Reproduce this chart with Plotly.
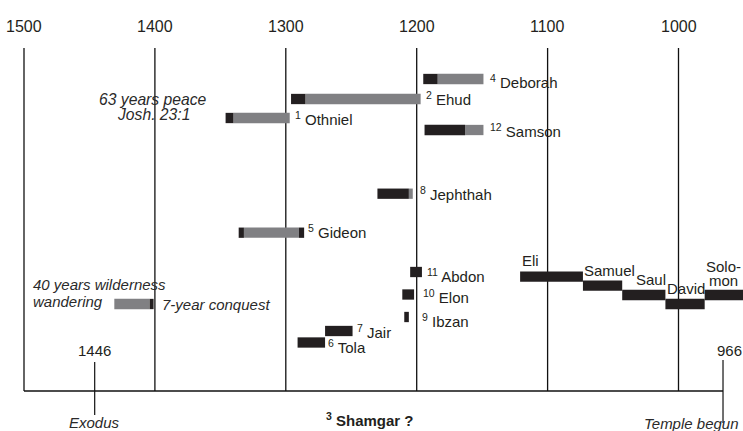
import plotly.graph_objects as go

# ---------------- data ----------------
top_years = [1500, 1400, 1300, 1200, 1100, 1000]

judge_names = ["Othniel", "Ehud", "Deborah", "Gideon", "Tola", "Jair",
               "Jephthah", "Ibzan", "Elon", "Abdon", "Samson"]
judge_numbers = [1, 2, 4, 5, 6, 7, 8, 9, 10, 11, 12]

# segments of each judge: dark = oppression / rule, gray = rest
seg_judge = ["Othniel", "Othniel", "Ehud", "Ehud", "Deborah", "Deborah",
             "Gideon", "Gideon", "Gideon", "Tola", "Jair", "Jephthah",
             "Jephthah", "Ibzan", "Elon", "Abdon", "Samson", "Samson"]
seg_from = [1346, 1340, 1296, 1285, 1195, 1184, 1336, 1332, 1290, 1291,
            1270, 1230, 1206, 1209.5, 1211, 1205, 1194, 1163]
seg_to = [1340, 1297, 1285, 1197, 1184, 1149, 1332, 1290, 1286, 1270,
          1249, 1206, 1203, 1206, 1202, 1196, 1163, 1149]
seg_kind = ["dark", "gray", "dark", "gray", "dark", "gray", "dark", "gray",
            "dark", "dark", "dark", "dark", "gray", "dark", "dark", "dark",
            "dark", "gray"]

leader_names = ["Eli", "Samuel", "Saul", "David", "Solomon"]
leader_from = [1121, 1073, 1043, 1010, 980]
leader_to = [1073, 1043, 1010, 980, 931]

wild_from = [1431, 1404]
wild_to = [1404, 1401]
wild_kind = ["gray", "dark"]

exodus_year = 1446
temple_year = 966

# ---------------- layout (positions / styles) ----------------
W, H = 743, 431
PX_PER_YR = 1.309
X_LEFT = 1500 + 24 / PX_PER_YR
X_RIGHT = 1500 - (W - 24) / PX_PER_YR

def px2yr(px):
    return 1500 - (px - 24) / PX_PER_YR

row_y = {"Deborah": 79, "Ehud": 99, "Othniel": 118, "Samson": 130,
         "Jephthah": 193.7, "Gideon": 232.7, "Abdon": 272, "Elon": 294.5,
         "Ibzan": 317, "Jair": 331, "Tola": 342.5}
label_y = {"Deborah": 81, "Ehud": 98.3, "Othniel": 118, "Samson": 130,
           "Jephthah": 193.3, "Gideon": 231, "Abdon": 275, "Elon": 296.7,
           "Ibzan": 320, "Jair": 331.7, "Tola": 346.7}
label_gap = {"Deborah": 5, "Ehud": 3.5, "Othniel": 3.5, "Samson": 4.5,
             "Jephthah": 5, "Gideon": 2, "Abdon": 3, "Elon": 6.5,
             "Ibzan": 11, "Jair": 2.5, "Tola": 1}
leader_y = [276.7, 285.7, 295, 304, 295]
wild_y = 304
BAR_H = 10.3

DARK = "#231f20"
GRAY = "#808083"
TXT = "#231f20"
FONT = "Liberation Sans, Arial, sans-serif"
FS = 15

fig = go.Figure()

def add_bars(ys, starts, ends, color):
    fig.add_trace(go.Bar(
        orientation="h", y=ys, base=ends,
        x=[s - e for s, e in zip(starts, ends)],
        width=[BAR_H] * len(ys),
        marker=dict(color=color, line=dict(width=0)),
        hoverinfo="skip", showlegend=False))

for kind, col in (("gray", GRAY), ("dark", DARK)):
    idx = [i for i, k in enumerate(seg_kind) if k == kind]
    add_bars([row_y[seg_judge[i]] for i in idx],
             [seg_from[i] for i in idx], [seg_to[i] for i in idx], col)
    widx = [i for i, k in enumerate(wild_kind) if k == kind]
    if widx:
        add_bars([wild_y for _ in widx], [wild_from[i] for i in widx],
                 [wild_to[i] for i in widx], col)

add_bars(leader_y, leader_from, leader_to, DARK)

# vertical century lines
for yr in top_years:
    fig.add_shape(type="line", x0=yr, x1=yr, y0=48, y1=391,
                  line=dict(color="#111", width=1.3), layer="below")
# base axis line
fig.add_shape(type="line", x0=1500, x1=temple_year, y0=391, y1=391,
              line=dict(color="#111", width=1.6), layer="below")
# event ticks
fig.add_shape(type="line", x0=exodus_year, x1=exodus_year, y0=362, y1=415,
              line=dict(color="#111", width=1.2), layer="below")
fig.add_shape(type="line", x0=temple_year, x1=temple_year, y0=360, y1=423,
              line=dict(color="#111", width=1.2), layer="below")

def ann(text, x, y, xanchor="center", size=FS, xshift=0, color=TXT, xref="x"):
    fig.add_annotation(text=text, x=x, y=y, xref=xref, yref="y",
                       xanchor=xanchor, yanchor="middle", showarrow=False,
                       xshift=xshift, font=dict(family=FONT, size=size, color=color))

for yr in top_years:
    ann(str(yr), yr, 26, size=16)

# judge labels
for name, num in zip(judge_names, judge_numbers):
    end = min(seg_to[i] for i, j in enumerate(seg_judge) if j == name)
    ann(f"<sup>{num}</sup> {name}", end, label_y[name], xanchor="left",
        xshift=label_gap[name])

# leader labels
ann("Eli", px2yr(520), 260, xanchor="left")
ann("Samuel", px2yr(582), 270, xanchor="left")
ann("Saul", px2yr(634), 279, xanchor="left")
ann("David", px2yr(665), 288, xanchor="left")
ann("Solo-", px2yr(723), 266.5)
ann("mon", px2yr(723), 280)

# italic notes
ITC = "#2a2a2a"
ann("<i>63 years peace</i>", px2yr(153), 99, color=ITC, size=15.7)
ann("<i>Josh. 23:1</i>", px2yr(153), 114.3, color=ITC, size=15.7)
ann("<i>40 years wilderness</i>", px2yr(31), 284.5, xanchor="left", color=ITC)
ann("<i>wandering</i>", px2yr(31), 301.7, xanchor="left", color=ITC)
ann("<i>7-year conquest</i>", wild_to[-1], 304, xanchor="left", xshift=6, color=ITC)

# bottom events
ann(str(exodus_year), exodus_year, 350)
ann("<i>Exodus</i>", exodus_year, 422, color=ITC)
ann(str(temple_year), temple_year, 350, xshift=6)
ann("<i>Temple begun</i>", 1, 423, xanchor="right", xshift=-2, xref="paper", color=ITC)
ann("<b><sup>3</sup> Shamgar ?</b>", px2yr(370), 419.5, size=15)

fig.update_layout(
    width=W, height=H, margin=dict(l=0, r=0, t=0, b=0),
    paper_bgcolor="white", plot_bgcolor="white",
    barmode="overlay",
    xaxis=dict(range=[X_LEFT, X_RIGHT], visible=False, fixedrange=True),
    yaxis=dict(range=[H, 0], visible=False, fixedrange=True),
    showlegend=False,
)

fig.write_html(
    "out.html",
    config={"displayModeBar": False, "staticPlot": True},
    post_script="document.body.style.margin='0px';document.body.style.padding='0px';document.body.style.overflow='hidden';",
)
